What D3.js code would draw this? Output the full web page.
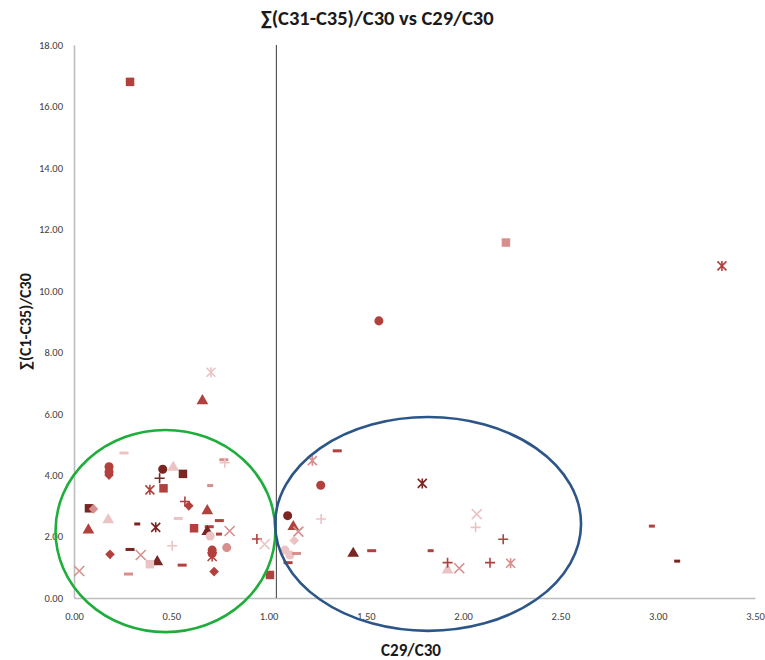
<!DOCTYPE html>
<html><head><meta charset="utf-8">
<script src="https://cdn.jsdelivr.net/npm/d3@7"></script>
<style>body{margin:0;background:#fff;} svg{display:block;}</style>
</head><body>
<script>
// ---- data ----
const xTicks = [0, 0.5, 1, 1.5, 2, 2.5, 3, 3.5];
const yTicks = [0, 2, 4, 6, 8, 10, 12, 14, 16, 18];
const xValues = [0.288,2.22,3.33,1.567,0.704,0.66,0.257,0.18,0.18,0.18,0.456,0.51,0.56,0.44,0.77,0.775,0.39,0.46,0.70,0.57,0.59,0.685,0.077,0.10,0.176,0.536,0.747,0.074,0.325,0.42,0.617,0.695,0.685,0.70,0.745,0.80,0.505,0.785,0.71,0.71,0.71,0.94,0.98,0.185,0.288,0.343,0.428,0.39,0.556,0.28,0.027,0.72,1.007,
1.353,1.225,1.268,1.79,1.098,1.27,1.127,1.153,1.132,1.084,1.11,1.144,1.10,1.435,1.53,1.833,2.07,2.064,2.206,2.138,2.244,1.92,1.92,1.98,2.97,3.10];
const yValues = [16.8,11.57,10.81,9.02,7.35,6.42,4.72,4.27,4.10,4.00,4.19,4.25,4.04,3.90,4.50,4.40,3.52,3.57,3.66,3.14,3.00,2.84,2.92,2.90,2.54,2.59,2.52,2.21,2.41,2.30,2.27,2.32,2.16,2.02,2.08,2.18,1.70,1.64,1.56,1.45,1.35,1.92,1.75,1.42,1.58,1.40,1.18,1.10,1.07,0.78,0.88,0.86,0.75,
4.79,4.47,3.67,3.73,2.68,2.57,2.32,2.16,1.87,1.56,1.40,1.45,1.15,1.45,1.54,1.54,2.73,2.30,1.91,1.15,1.13,0.91,1.15,0.97,2.34,1.20];
const shapes = ["square","square","asterisk","circle","asterisk","triangle","dash","circle","circle","diamond","circle","triangle","square","plus","dash","plus","asterisk","square","dashS","plus","diamond","triangle","square","diamond","triangle","dash","dash","triangle","dashS","asterisk","square","dash","triangle","circle","dashS","x","plus","circle","circle","circle","asterisk","plus","x","diamond","dash","x","triangle","square","dash","dash","x","diamond","square",
"dash","asterisk","circle","asterisk","circle","plus","triangle","x","diamond","circle","circle","dash","dash","triangle","dash","dashS","x","plus","plus","plus","asterisk","triangle","plus","x","dashS","dashS"];
const shades = ["mid","light","mid","mid","pale","mid","pale","mid","mid","mid","dark","pale","dark","dark","light","pale","mid","mid","light","mid","mid","mid","dark","light","pale","pale","mid","mid","dark","dark","mid","mid","dark","pale","mid","light","pale","light","mid","mid","mid","mid","pale","mid","dark","light","dark","pale","mid","light","light","mid","mid",
"mid","light","mid","dark","dark","pale","mid","light","pale","pale","pale","light","mid","dark","mid","mid","pale","pale","mid","mid","light","pale","mid","light","mid","dark"];
const shadeColors = {dark:"#7a2522", mid:"#b2403d", light:"#d68f8d", pale:"#ebc3c2"};
// annotations (data units)
const divider = 1.04;
const greenEllipse = {cx:0.47, cy:2.18, rx:0.565, ry:3.29};
const blueEllipse = {cx:1.82, cy:2.41, rx:0.786, ry:3.48};

// ---- chart ----
const W = 765, H = 660;
const svg = d3.select("body").append("svg").attr("width", W).attr("height", H);
const x = d3.scaleLinear().domain([0, 3.5]).range([74, 755]);
const y = d3.scaleLinear().domain([0, 18]).range([598, 45]);
const font = "Carlito, 'Liberation Sans Narrow', 'Liberation Sans', sans-serif";

svg.append("text").attr("x", 377).attr("y", 25).attr("text-anchor","middle")
  .attr("font-family", font).attr("font-weight","bold").attr("font-size", 20.5).attr("fill","#1a1a1a")
  .text("∑(C31-C35)/C30 vs C29/C30");

// axes
const yAxis = svg.append("g").attr("transform", `translate(${x(0)},0)`)
  .call(d3.axisLeft(y).tickValues(yTicks).tickFormat(d3.format(".2f")).tickSize(0).tickPadding(11));
const xAxis = svg.append("g").attr("transform", `translate(0,${y(0)})`)
  .call(d3.axisBottom(x).tickValues(xTicks).tickFormat(d3.format(".2f")).tickSize(0).tickPadding(15));
[yAxis, xAxis].forEach(g => {
  g.select(".domain").attr("stroke", "#bdbdbd").attr("stroke-width", 1.6);
  g.selectAll("text").attr("font-family", font).attr("font-size", 10.5).attr("fill", "#404040");
});

svg.append("line").attr("x1", x(divider)).attr("x2", x(divider)).attr("y1", y(18)).attr("y2", y(0))
  .attr("stroke", "#3a3a3a").attr("stroke-width", 1);

svg.append("text").attr("transform", `translate(31,${y(9.0)}) rotate(-90)`).attr("text-anchor","middle")
  .attr("font-family", font).attr("font-weight","bold").attr("font-size", 16).attr("fill","#1a1a1a")
  .text("∑(C1-C35)/C30");
svg.append("text").attr("x", 411).attr("y", 656).attr("text-anchor","middle")
  .attr("font-family", font).attr("font-weight","bold").attr("font-size", 17).attr("fill","#1a1a1a")
  .text("C29/C30");

// custom symbols
const sym = {
  circle: {type: d3.symbolCircle, size: 64, filled: true},
  square: {type: d3.symbolSquare, size: 72, filled: true},
  triangle: {type: d3.symbolTriangle, size: 60, filled: true},
  diamond: {type: {draw(c){ c.moveTo(0,-4.8); c.lineTo(4.8,0); c.lineTo(0,4.8); c.lineTo(-4.8,0); c.closePath(); }}, size: 1, filled: true},
  dash: {type: {draw(c){ c.rect(-4.5,-1.5,9,3); }}, size: 1, filled: true},
  dashS: {type: {draw(c){ c.rect(-3,-1.5,6,3); }}, size: 1, filled: true},
  plus: {type: {draw(c){ c.moveTo(-5,0); c.lineTo(5,0); c.moveTo(0,-5); c.lineTo(0,5); }}, size: 1, filled: false},
  x: {type: {draw(c){ c.moveTo(-5,-5); c.lineTo(5,5); c.moveTo(5,-5); c.lineTo(-5,5); }}, size: 1, filled: false},
  asterisk: {type: {draw(c){ c.moveTo(-4.5,-4.5); c.lineTo(4.5,4.5); c.moveTo(4.5,-4.5); c.lineTo(-4.5,4.5); c.moveTo(0,-5); c.lineTo(0,5); }}, size: 1, filled: false}
};

const pts = xValues.map((v, i) => ({x: v, y: yValues[i], shape: shapes[i], shade: shades[i]}));
svg.append("g").selectAll("path").data(pts).join("path")
  .attr("transform", d => `translate(${x(d.x)},${y(d.y)})`)
  .attr("d", d => d3.symbol().type(sym[d.shape].type).size(sym[d.shape].size)())
  .attr("fill", d => sym[d.shape].filled ? shadeColors[d.shade] : "none")
  .attr("stroke", d => sym[d.shape].filled ? "none" : shadeColors[d.shade])
  .attr("stroke-width", 1.6);

// ellipses
[[greenEllipse, "#1fae3c"], [blueEllipse, "#2c5588"]].forEach(([e, col]) => {
  svg.append("ellipse").attr("cx", x(e.cx)).attr("cy", y(e.cy))
    .attr("rx", x(e.cx + e.rx) - x(e.cx)).attr("ry", y(e.cy) - y(e.cy + e.ry))
    .attr("fill", "none").attr("stroke", col).attr("stroke-width", 2.6);
});
</script>
</body></html>
